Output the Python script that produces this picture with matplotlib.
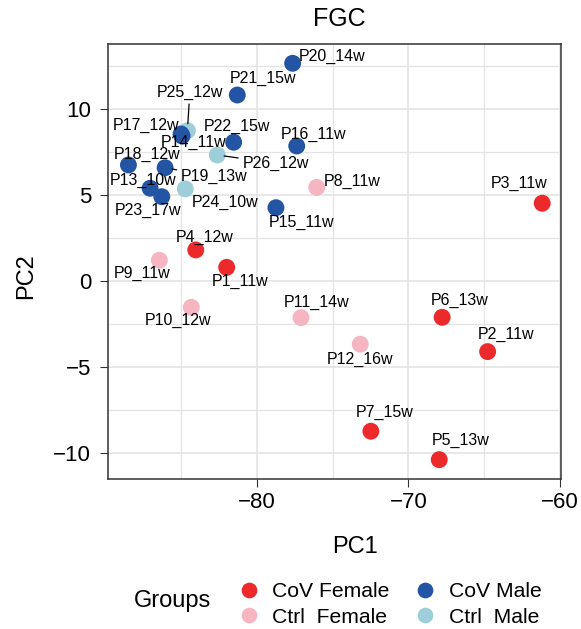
import matplotlib
matplotlib.use('Agg')
import matplotlib.pyplot as plt
from matplotlib.lines import Line2D
from matplotlib.ticker import MultipleLocator

plt.rcParams['font.family'] = ['Liberation Sans', 'DejaVu Sans']

# PCA scores per sample
names = ['P1_11w', 'P2_11w', 'P3_11w', 'P4_12w', 'P5_13w', 'P6_13w', 'P7_15w',
         'P8_11w', 'P9_11w', 'P10_12w', 'P11_14w', 'P12_16w',
         'P13_10w', 'P14_11w', 'P15_11w', 'P16_11w', 'P17_12w', 'P18_12w',
         'P19_13w', 'P20_14w', 'P21_15w', 'P22_15w', 'P23_17w',
         'P24_10w', 'P25_12w', 'P26_12w']
pc1 = [-81.98, -64.77, -61.17, -84.02, -67.96, -67.77, -72.47,
       -76.04, -86.42, -84.31, -77.08, -73.17,
       -87.03, -84.92, -78.73, -77.36, -84.99, -88.46,
       -86.04, -77.63, -81.28, -81.52, -86.26,
       -84.71, -84.57, -82.60]
pc2 = [0.79, -4.10, 4.51, 1.80, -10.37, -2.11, -8.72,
       5.43, 1.20, -1.53, -2.13, -3.67,
       5.38, 8.41, 4.25, 7.83, 8.53, 6.73,
       6.57, 12.63, 10.79, 8.05, 4.89,
       5.34, 8.72, 7.31]
groups = ['CoV Female'] * 7 + ['Ctrl Female'] * 5 + ['CoV Male'] * 11 + ['Ctrl Male'] * 3

group_order = ['CoV Female', 'Ctrl Female', 'CoV Male', 'Ctrl Male']
group_labels = ['CoV Female', 'Ctrl  Female', 'CoV Male', 'Ctrl  Male']
colors = {'CoV Female': '#EC2A2B', 'Ctrl Female': '#F5B5C2',
          'CoV Male': '#2355A4', 'Ctrl Male': '#9FCEDB'}

# label offsets (pixels, y down) from each point, and which ones get a leader line
label_offset = {
    'P1_11w': (13, 13.7), 'P2_11w': (18.6, -16.7), 'P3_11w': (-22.8, -20),
    'P4_12w': (8.6, -12.7), 'P5_13w': (21.7, -19), 'P6_13w': (17, -16.6),
    'P7_15w': (13.7, -18.6), 'P8_11w': (35.6, -5.6), 'P9_11w': (-17.3, 13),
    'P10_12w': (-13.5, 12.7), 'P11_14w': (15.7, -15), 'P12_16w': (0, 15),
    'P13_10w': (-6.7, -8.3), 'P14_11w': (11.5, 6.7), 'P15_11w': (26, 14.3),
    'P16_11w': (17.1, -12), 'P17_12w': (-34.8, -9), 'P18_12w': (18.7, -11),
    'P19_13w': (49, 9), 'P20_14w': (39.3, -7.3), 'P21_15w': (25.7, -16.7),
    'P22_15w': (3, -15.6), 'P23_17w': (-13.7, 14), 'P24_10w': (39.5, 13.3),
    'P25_12w': (2.4, -38.4), 'P26_12w': (58.2, 8.3),
}
leader = {'P19_13w', 'P25_12w', 'P26_12w'}

W, H = 581, 629
fig = plt.figure(figsize=(W / 100, H / 100), dpi=100)
ax = fig.add_axes([107.5 / W, 1 - 479.3 / H, (561 - 107.5) / W, (479.3 - 44) / H])

# controls first so CoV points sit on top
for g in ['Ctrl Female', 'Ctrl Male', 'CoV Female', 'CoV Male']:
    xs = [x for x, gg in zip(pc1, groups) if gg == g]
    ys = [y for y, gg in zip(pc2, groups) if gg == g]
    ax.scatter(xs, ys, s=148, color=colors[g], edgecolors='none', zorder=3)

for n, x, y in zip(names, pc1, pc2):
    dx, dy = label_offset[n]
    kw = {}
    if n in leader:
        kw['arrowprops'] = dict(arrowstyle='-', color='black', lw=0.9,
                                shrinkA=1, shrinkB=5)
    ax.annotate(n, (x, y), xytext=(dx * 0.72, -dy * 0.72),
                textcoords='offset points', ha='center', va='center',
                fontsize=11.5, color='black', zorder=4, **kw)

ax.set_xlim(-89.84, -59.93)
ax.set_ylim(-11.51, 13.75)
ax.xaxis.set_major_locator(MultipleLocator(10))
ax.xaxis.set_minor_locator(MultipleLocator(5))
ax.yaxis.set_major_locator(MultipleLocator(5))
ax.yaxis.set_minor_locator(MultipleLocator(2.5))
ax.grid(True, which='major', color='#E2E2E2', lw=1.1, zorder=0)
ax.grid(True, which='minor', color='#E4E4E4', lw=0.9, zorder=0)
ax.set_axisbelow(True)
for sp in ax.spines.values():
    sp.set_color('#333333')
    sp.set_linewidth(1.1)
ax.tick_params(which='major', length=5.8, width=0.8, color='#333333',
               labelsize=16, labelcolor='black')
ax.tick_params(axis='x', which='major', pad=3.5)
ax.tick_params(axis='y', which='major', pad=6.0)
ax.tick_params(which='minor', length=0)

fig.text(339 / W, 1 - 25.7 / H, 'FGC', ha='center', va='baseline', fontsize=18)
fig.text(355 / W, 1 - 553.3 / H, 'PC1', ha='center', va='baseline', fontsize=17)
fig.text(26.5 / W, 1 - 275.8 / H, 'PC2', ha='center', va='center',
         rotation=90, fontsize=17)

# legend
fig.text(134 / W, 1 - 607.5 / H, 'Groups', ha='left', va='baseline', fontsize=17)
handles = [Line2D([], [], ls='none', marker='o', markersize=11.3,
                  markerfacecolor=colors[g], markeredgecolor='none')
           for g in group_order]
fig.legend(handles, group_labels, ncol=2, frameon=False, loc='center left',
           bbox_to_anchor=(238 / W, 1 - 604.5 / H), borderpad=0, borderaxespad=0,
           fontsize=15.2, handlelength=1.0, handletextpad=0.62,
           columnspacing=1.2, labelspacing=0.3)

fig.savefig('out.png', dpi=100)
